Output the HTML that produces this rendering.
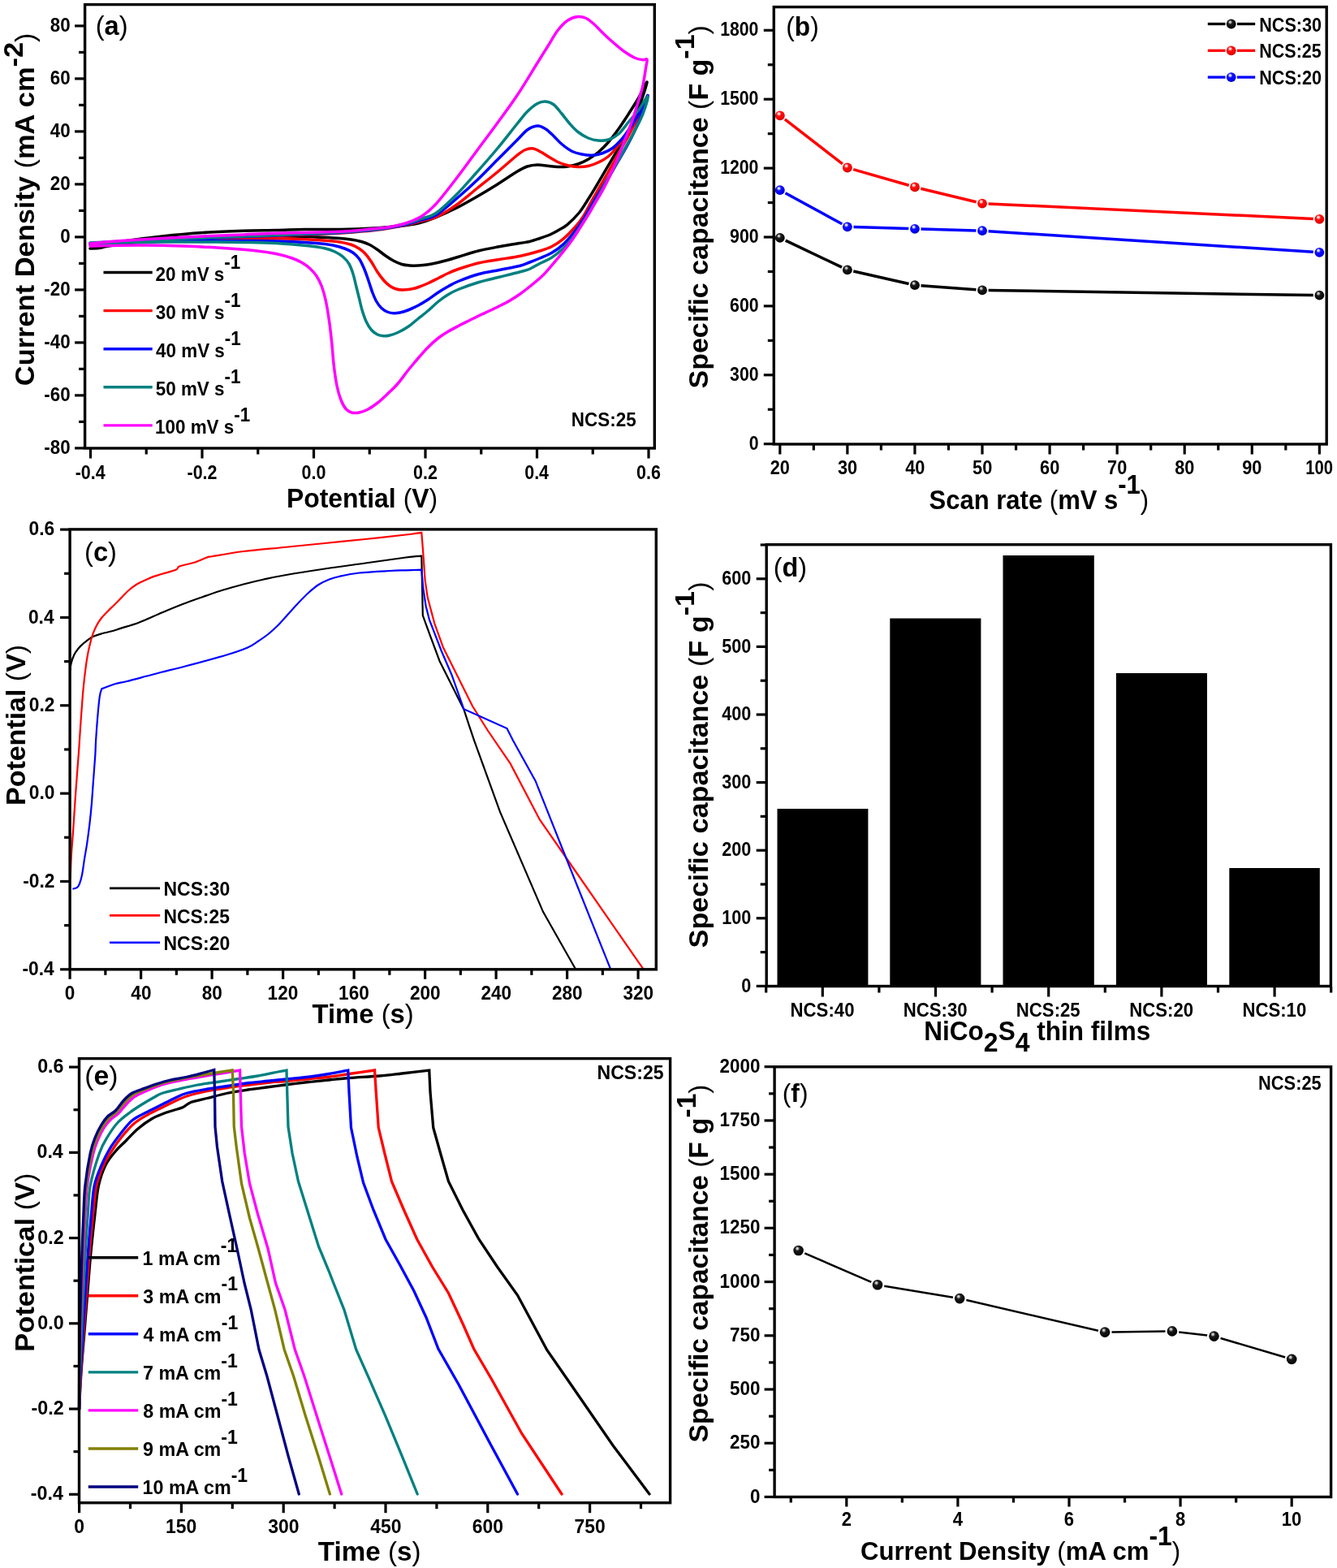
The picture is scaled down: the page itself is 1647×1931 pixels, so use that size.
<!DOCTYPE html>
<html lang="en">
<head>
<meta charset="utf-8">
<title>Figure: electrochemical performance of NiCo2S4 thin films</title>
<style>
html,body{margin:0;padding:0;background:#fff;}
body{width:1647px;height:1931px;overflow:hidden;}
svg{display:block;}
svg text{font-family:"Liberation Sans", sans-serif;font-weight:bold;fill:#000;}
</style>
</head>
<body>
<svg width="1647" height="1931" viewBox="0 0 1647 1931">
<defs>
<radialGradient id="gk" cx="0.42" cy="0.36" r="0.62" fx="0.38" fy="0.30"><stop offset="0" stop-color="#f2f2f2"/><stop offset="0.16" stop-color="#b0b0b0"/><stop offset="0.36" stop-color="#1c1c1c"/><stop offset="1" stop-color="#000"/></radialGradient>
<radialGradient id="gr" cx="0.42" cy="0.36" r="0.66" fx="0.38" fy="0.30"><stop offset="0" stop-color="#fff"/><stop offset="0.16" stop-color="#ffc0c0"/><stop offset="0.36" stop-color="#ff1010"/><stop offset="0.8" stop-color="#f00000"/><stop offset="1" stop-color="#c00000"/></radialGradient>
<radialGradient id="gb" cx="0.42" cy="0.36" r="0.66" fx="0.38" fy="0.30"><stop offset="0" stop-color="#fff"/><stop offset="0.16" stop-color="#c0c0ff"/><stop offset="0.36" stop-color="#1010ff"/><stop offset="0.8" stop-color="#0000f0"/><stop offset="1" stop-color="#0000b0"/></radialGradient>
</defs>
<rect width="1647" height="1931" fill="#fff"/>
<g id="panel-a">
<path d="M111.00,306.00C113.33,305.83 118.50,306.42 125.00,305.00C131.50,303.58 137.50,299.83 150.00,297.50C162.50,295.17 183.33,292.83 200.00,291.00C216.67,289.17 233.33,287.62 250.00,286.50C266.67,285.38 285.00,284.75 300.00,284.25C315.00,283.75 327.50,283.79 340.00,283.50C352.50,283.21 363.00,282.67 375.00,282.50C387.00,282.33 401.17,282.58 412.00,282.50C422.83,282.42 427.00,282.62 440.00,282.00C453.00,281.38 477.50,279.92 490.00,278.75C502.50,277.58 507.17,276.88 515.00,275.00C522.83,273.12 529.17,270.62 537.00,267.50C544.83,264.38 553.67,260.42 562.00,256.25C570.33,252.08 578.67,247.29 587.00,242.50C595.33,237.71 603.67,232.71 612.00,227.50C620.33,222.29 630.75,215.00 637.00,211.25C643.25,207.50 645.33,206.38 649.50,205.00C653.67,203.62 657.83,203.12 662.00,203.00C666.17,202.88 670.33,203.83 674.50,204.25C678.67,204.67 682.83,205.38 687.00,205.50C691.17,205.62 695.33,205.58 699.50,205.00C703.67,204.42 707.83,203.46 712.00,202.00C716.17,200.54 720.33,198.67 724.50,196.25C728.67,193.83 732.83,191.04 737.00,187.50C741.17,183.96 745.33,179.79 749.50,175.00C753.67,170.21 757.83,164.58 762.00,158.75C766.17,152.92 770.33,146.46 774.50,140.00C778.67,133.54 783.25,126.46 787.00,120.00C790.75,113.54 797.00,99.25 797.00,101.25C797.00,103.25 791.20,121.24 787.00,132.00C782.80,142.76 775.97,157.40 771.80,165.80C767.63,174.20 765.25,176.88 762.00,182.40C758.75,187.92 755.53,193.40 752.30,198.90C749.07,204.40 745.83,209.90 742.60,215.40C739.37,220.90 736.13,226.55 732.90,231.90C729.67,237.25 726.45,242.48 723.20,247.50C719.95,252.52 717.45,257.15 713.40,262.00C709.35,266.85 703.13,273.02 698.90,276.60C694.67,280.18 691.57,281.43 688.00,283.50C684.43,285.57 681.33,287.33 677.50,289.00C673.67,290.67 669.17,292.08 665.00,293.50C660.83,294.92 656.67,296.50 652.50,297.50C648.33,298.50 646.25,298.46 640.00,299.50C633.75,300.54 623.33,302.21 615.00,303.75C606.67,305.29 598.33,306.67 590.00,308.75C581.67,310.83 571.25,314.38 565.00,316.25C558.75,318.12 556.67,318.83 552.50,320.00C548.33,321.17 544.17,322.29 540.00,323.25C535.83,324.21 531.67,325.12 527.50,325.75C523.33,326.38 518.75,326.79 515.00,327.00C511.25,327.21 508.33,327.25 505.00,327.00C501.67,326.75 498.33,326.46 495.00,325.50C491.67,324.54 488.33,323.00 485.00,321.25C481.67,319.50 478.33,317.29 475.00,315.00C471.67,312.71 468.33,309.79 465.00,307.50C461.67,305.21 458.33,302.92 455.00,301.25C451.67,299.58 448.75,298.54 445.00,297.50C441.25,296.46 437.50,295.71 432.50,295.00C427.50,294.29 422.08,293.75 415.00,293.25C407.92,292.75 402.50,292.46 390.00,292.00C377.50,291.54 355.00,290.67 340.00,290.50C325.00,290.33 315.00,290.58 300.00,291.00C285.00,291.42 266.67,292.17 250.00,293.00C233.33,293.83 216.67,294.75 200.00,296.00C183.33,297.25 162.50,299.08 150.00,300.50C137.50,301.92 131.50,303.58 125.00,304.50C118.50,305.42 113.33,305.75 111.00,306.00" fill="none" stroke="#000" stroke-width="3.5" stroke-linejoin="round" stroke-linecap="round"/>
<path d="M111.00,300.00C117.50,299.67 135.17,298.67 150.00,298.00C164.83,297.33 183.33,296.67 200.00,296.00C216.67,295.33 233.33,294.67 250.00,294.00C266.67,293.33 285.00,292.58 300.00,292.00C315.00,291.42 321.33,291.25 340.00,290.50C358.67,289.75 395.33,288.33 412.00,287.50C428.67,286.67 430.33,286.33 440.00,285.50C449.67,284.67 460.00,283.92 470.00,282.50C480.00,281.08 491.67,278.75 500.00,277.00C508.33,275.25 513.83,273.58 520.00,272.00C526.17,270.42 530.00,270.75 537.00,267.50C544.00,264.25 553.67,258.33 562.00,252.50C570.33,246.67 578.67,239.17 587.00,232.50C595.33,225.83 603.67,219.38 612.00,212.50C620.33,205.62 631.17,195.92 637.00,191.25C642.83,186.58 643.67,185.88 647.00,184.50C650.33,183.12 653.67,182.50 657.00,183.00C660.33,183.50 663.67,185.71 667.00,187.50C670.33,189.29 673.67,191.75 677.00,193.75C680.33,195.75 683.25,197.83 687.00,199.50C690.75,201.17 695.33,202.75 699.50,203.75C703.67,204.75 707.83,205.38 712.00,205.50C716.17,205.62 720.33,205.42 724.50,204.50C728.67,203.58 732.83,202.00 737.00,200.00C741.17,198.00 745.33,196.04 749.50,192.50C753.67,188.96 757.83,184.17 762.00,178.75C766.17,173.33 770.33,166.67 774.50,160.00C778.67,153.33 783.08,145.83 787.00,138.75C790.92,131.67 798.00,116.96 798.00,117.50C798.00,118.04 790.50,134.58 787.00,142.00C783.50,149.42 780.33,155.67 777.00,162.00C773.67,168.33 770.33,174.00 767.00,180.00C763.67,186.00 760.25,192.17 757.00,198.00C753.75,203.83 750.72,209.33 747.50,215.00C744.28,220.67 740.95,226.33 737.70,232.00C734.45,237.67 731.23,243.18 728.00,249.00C724.77,254.82 721.53,261.82 718.30,266.90C715.07,271.98 712.65,274.97 708.60,279.50C704.55,284.03 698.87,290.05 694.00,294.10C689.13,298.15 684.23,301.32 679.40,303.80C674.57,306.28 671.57,307.05 665.00,309.00C658.43,310.95 648.33,313.75 640.00,315.50C631.67,317.25 623.33,318.12 615.00,319.50C606.67,320.88 598.33,321.79 590.00,323.75C581.67,325.71 571.25,329.17 565.00,331.25C558.75,333.33 556.67,334.38 552.50,336.25C548.33,338.12 544.17,340.42 540.00,342.50C535.83,344.58 531.67,346.88 527.50,348.75C523.33,350.62 518.75,352.50 515.00,353.75C511.25,355.00 508.33,355.71 505.00,356.25C501.67,356.79 497.92,357.08 495.00,357.00C492.08,356.92 490.00,356.58 487.50,355.75C485.00,354.92 482.50,353.79 480.00,352.00C477.50,350.21 475.00,347.83 472.50,345.00C470.00,342.17 467.50,338.75 465.00,335.00C462.50,331.25 460.00,326.25 457.50,322.50C455.00,318.75 452.50,315.21 450.00,312.50C447.50,309.79 445.42,308.12 442.50,306.25C439.58,304.38 437.08,302.71 432.50,301.25C427.92,299.79 422.08,298.46 415.00,297.50C407.92,296.54 402.50,296.12 390.00,295.50C377.50,294.88 355.00,294.00 340.00,293.75C325.00,293.50 315.00,293.79 300.00,294.00C285.00,294.21 266.67,294.58 250.00,295.00C233.33,295.42 216.67,295.92 200.00,296.50C183.33,297.08 164.83,297.75 150.00,298.50C135.17,299.25 117.50,300.58 111.00,301.00" fill="none" stroke="#ff0000" stroke-width="3.5" stroke-linejoin="round" stroke-linecap="round"/>
<path d="M111.00,299.50C117.50,299.17 135.17,298.17 150.00,297.50C164.83,296.83 183.33,296.17 200.00,295.50C216.67,294.83 233.33,294.17 250.00,293.50C266.67,292.83 285.00,292.08 300.00,291.50C315.00,290.92 321.33,290.75 340.00,290.00C358.67,289.25 395.33,287.83 412.00,287.00C428.67,286.17 430.33,285.83 440.00,285.00C449.67,284.17 460.00,283.42 470.00,282.00C480.00,280.58 491.67,278.42 500.00,276.50C508.33,274.58 513.83,272.42 520.00,270.50C526.17,268.58 530.00,269.25 537.00,265.00C544.00,260.75 553.67,252.08 562.00,245.00C570.33,237.92 578.67,230.42 587.00,222.50C595.33,214.58 603.67,205.83 612.00,197.50C620.33,189.17 630.75,178.75 637.00,172.50C643.25,166.25 645.33,162.92 649.50,160.00C653.67,157.08 658.25,155.21 662.00,155.00C665.75,154.79 668.67,156.67 672.00,158.75C675.33,160.83 678.67,164.38 682.00,167.50C685.33,170.62 688.25,174.38 692.00,177.50C695.75,180.62 700.33,184.17 704.50,186.25C708.67,188.33 712.83,189.17 717.00,190.00C721.17,190.83 725.33,191.46 729.50,191.25C733.67,191.04 737.83,190.21 742.00,188.75C746.17,187.29 750.33,185.62 754.50,182.50C758.67,179.38 762.83,175.00 767.00,170.00C771.17,165.00 775.75,158.33 779.50,152.50C783.25,146.67 786.42,140.83 789.50,135.00C792.58,129.17 797.92,116.33 798.00,117.50C798.08,118.67 793.00,134.08 790.00,142.00C787.00,149.92 783.33,158.00 780.00,165.00C776.67,172.00 773.33,178.00 770.00,184.00C766.67,190.00 763.42,195.17 760.00,201.00C756.58,206.83 753.33,212.67 749.50,219.00C745.67,225.33 740.75,232.83 737.00,239.00C733.25,245.17 730.12,250.70 727.00,256.00C723.88,261.30 721.37,266.07 718.30,270.80C715.23,275.53 712.65,279.38 708.60,284.40C704.55,289.42 698.87,296.37 694.00,300.90C689.13,305.43 684.23,308.75 679.40,311.60C674.57,314.45 669.48,316.10 665.00,318.00C660.52,319.90 656.67,321.42 652.50,323.00C648.33,324.58 646.25,325.92 640.00,327.50C633.75,329.08 623.33,330.83 615.00,332.50C606.67,334.17 598.33,335.21 590.00,337.50C581.67,339.79 571.25,343.75 565.00,346.25C558.75,348.75 556.67,350.21 552.50,352.50C548.33,354.79 544.17,357.29 540.00,360.00C535.83,362.71 531.67,366.04 527.50,368.75C523.33,371.46 519.17,374.04 515.00,376.25C510.83,378.46 506.25,380.54 502.50,382.00C498.75,383.46 495.42,384.38 492.50,385.00C489.58,385.62 487.50,385.88 485.00,385.75C482.50,385.62 480.00,385.29 477.50,384.25C475.00,383.21 472.29,381.67 470.00,379.50C467.71,377.33 465.62,374.50 463.75,371.25C461.88,368.00 460.42,364.38 458.75,360.00C457.08,355.62 455.42,349.79 453.75,345.00C452.08,340.21 450.62,335.62 448.75,331.25C446.88,326.88 444.79,322.08 442.50,318.75C440.21,315.42 437.92,313.33 435.00,311.25C432.08,309.17 429.17,307.79 425.00,306.25C420.83,304.71 415.83,303.12 410.00,302.00C404.17,300.88 401.67,300.33 390.00,299.50C378.33,298.67 355.00,297.50 340.00,297.00C325.00,296.50 315.00,296.58 300.00,296.50C285.00,296.42 266.67,296.42 250.00,296.50C233.33,296.58 216.67,296.67 200.00,297.00C183.33,297.33 164.83,297.92 150.00,298.50C135.17,299.08 117.50,300.17 111.00,300.50" fill="none" stroke="#0000ff" stroke-width="3.5" stroke-linejoin="round" stroke-linecap="round"/>
<path d="M111.00,299.00C117.50,298.67 135.17,297.67 150.00,297.00C164.83,296.33 183.33,295.67 200.00,295.00C216.67,294.33 233.33,293.67 250.00,293.00C266.67,292.33 285.00,291.58 300.00,291.00C315.00,290.42 321.33,290.25 340.00,289.50C358.67,288.75 395.33,287.33 412.00,286.50C428.67,285.67 430.33,285.33 440.00,284.50C449.67,283.67 460.00,283.00 470.00,281.50C480.00,280.00 491.67,277.58 500.00,275.50C508.33,273.42 513.83,271.17 520.00,269.00C526.17,266.83 530.00,267.33 537.00,262.50C544.00,257.67 553.67,248.33 562.00,240.00C570.33,231.67 578.67,221.88 587.00,212.50C595.33,203.12 603.67,193.75 612.00,183.75C620.33,173.75 630.75,160.21 637.00,152.50C643.25,144.79 645.33,141.67 649.50,137.50C653.67,133.33 658.25,129.58 662.00,127.50C665.75,125.42 668.67,124.79 672.00,125.00C675.33,125.21 678.67,126.25 682.00,128.75C685.33,131.25 688.67,136.04 692.00,140.00C695.33,143.96 698.67,148.75 702.00,152.50C705.33,156.25 708.25,159.58 712.00,162.50C715.75,165.42 720.33,168.25 724.50,170.00C728.67,171.75 732.83,172.67 737.00,173.00C741.17,173.33 745.33,173.33 749.50,172.00C753.67,170.67 757.83,168.67 762.00,165.00C766.17,161.33 770.33,155.00 774.50,150.00C778.67,145.00 783.08,140.21 787.00,135.00C790.92,129.79 797.17,117.92 798.00,118.75C798.83,119.58 794.75,132.81 792.00,140.00C789.25,147.19 784.87,155.33 781.50,161.90C778.13,168.47 775.05,173.57 771.80,179.40C768.55,185.23 765.25,191.07 762.00,196.90C758.75,202.73 755.53,208.57 752.30,214.40C749.07,220.23 745.83,226.07 742.60,231.90C739.37,237.73 736.13,243.73 732.90,249.40C729.67,255.07 726.45,260.55 723.20,265.90C719.95,271.25 716.65,276.63 713.40,281.50C710.15,286.37 706.93,291.05 703.70,295.10C700.47,299.15 698.05,302.08 694.00,305.80C689.95,309.52 684.23,314.28 679.40,317.40C674.57,320.52 669.48,322.19 665.00,324.50C660.52,326.81 656.67,329.50 652.50,331.25C648.33,333.00 646.25,333.33 640.00,335.00C633.75,336.67 623.33,339.17 615.00,341.25C606.67,343.33 598.33,345.00 590.00,347.50C581.67,350.00 571.25,353.75 565.00,356.25C558.75,358.75 556.67,360.00 552.50,362.50C548.33,365.00 544.17,367.92 540.00,371.25C535.83,374.58 531.67,378.96 527.50,382.50C523.33,386.04 519.17,389.17 515.00,392.50C510.83,395.83 506.67,399.67 502.50,402.50C498.33,405.33 493.75,407.75 490.00,409.50C486.25,411.25 482.92,412.29 480.00,413.00C477.08,413.71 475.00,413.92 472.50,413.75C470.00,413.58 467.50,413.25 465.00,412.00C462.50,410.75 459.79,408.88 457.50,406.25C455.21,403.62 453.12,400.21 451.25,396.25C449.38,392.29 447.71,387.29 446.25,382.50C444.79,377.71 443.75,372.50 442.50,367.50C441.25,362.50 440.00,357.50 438.75,352.50C437.50,347.50 436.46,342.08 435.00,337.50C433.54,332.92 432.08,328.54 430.00,325.00C427.92,321.46 425.42,318.75 422.50,316.25C419.58,313.75 416.25,311.75 412.50,310.00C408.75,308.25 405.83,307.00 400.00,305.75C394.17,304.50 387.50,303.54 377.50,302.50C367.50,301.46 352.92,300.17 340.00,299.50C327.08,298.83 315.00,298.75 300.00,298.50C285.00,298.25 266.67,298.08 250.00,298.00C233.33,297.92 216.67,297.83 200.00,298.00C183.33,298.17 164.83,298.58 150.00,299.00C135.17,299.42 117.50,300.25 111.00,300.50" fill="none" stroke="#008080" stroke-width="3.5" stroke-linejoin="round" stroke-linecap="round"/>
<path d="M111.00,300.00C117.50,299.42 135.17,297.58 150.00,296.50C164.83,295.42 183.33,294.42 200.00,293.50C216.67,292.58 233.33,291.75 250.00,291.00C266.67,290.25 285.00,289.62 300.00,289.00C315.00,288.38 321.33,287.88 340.00,287.30C358.67,286.72 395.33,286.09 412.00,285.50C428.67,284.91 431.67,284.42 440.00,283.75C448.33,283.08 455.75,282.12 462.00,281.50C468.25,280.88 471.25,281.08 477.50,280.00C483.75,278.92 492.50,277.29 499.50,275.00C506.50,272.71 513.25,270.21 519.50,266.25C525.75,262.29 529.92,258.96 537.00,251.25C544.08,243.54 553.67,230.83 562.00,220.00C570.33,209.17 578.67,197.50 587.00,186.25C595.33,175.00 603.67,163.96 612.00,152.50C620.33,141.04 628.67,130.00 637.00,117.50C645.33,105.00 655.75,87.50 662.00,77.50C668.25,67.50 670.33,64.17 674.50,57.50C678.67,50.83 682.83,42.92 687.00,37.50C691.17,32.08 695.33,27.83 699.50,25.00C703.67,22.17 708.25,20.92 712.00,20.50C715.75,20.08 718.67,20.92 722.00,22.50C725.33,24.08 728.25,26.67 732.00,30.00C735.75,33.33 740.33,38.54 744.50,42.50C748.67,46.46 752.83,50.21 757.00,53.75C761.17,57.29 765.33,60.83 769.50,63.75C773.67,66.67 778.25,69.58 782.00,71.25C785.75,72.92 789.50,73.42 792.00,73.75C794.50,74.08 796.38,71.79 797.00,73.25C797.62,74.71 796.58,77.21 795.75,82.50C794.92,87.79 793.46,98.33 792.00,105.00C790.54,111.67 788.83,116.33 787.00,122.50C785.17,128.67 783.05,135.75 781.00,142.00C778.95,148.25 776.73,154.57 774.70,160.00C772.67,165.43 770.92,169.25 768.80,174.60C766.68,179.95 764.75,185.47 762.00,192.10C759.25,198.73 755.53,207.43 752.30,214.40C749.07,221.37 745.83,227.90 742.60,233.90C739.37,239.90 736.13,244.90 732.90,250.40C729.67,255.90 726.45,261.57 723.20,266.90C719.95,272.23 716.65,277.38 713.40,282.40C710.15,287.42 706.93,292.45 703.70,297.00C700.47,301.55 698.05,304.67 694.00,309.70C689.95,314.73 683.77,322.15 679.40,327.20C675.03,332.25 672.28,335.70 667.80,340.00C663.32,344.30 657.13,349.25 652.50,353.00C647.87,356.75 644.17,359.58 640.00,362.50C635.83,365.42 631.67,368.08 627.50,370.50C623.33,372.92 619.17,374.92 615.00,377.00C610.83,379.08 606.67,381.04 602.50,383.00C598.33,384.96 594.17,386.75 590.00,388.75C585.83,390.75 581.67,392.92 577.50,395.00C573.33,397.08 569.17,399.08 565.00,401.25C560.83,403.42 556.67,405.50 552.50,408.00C548.33,410.50 544.17,413.00 540.00,416.25C535.83,419.50 531.67,423.33 527.50,427.50C523.33,431.67 519.17,436.46 515.00,441.25C510.83,446.04 506.67,451.04 502.50,456.25C498.33,461.46 494.17,467.71 490.00,472.50C485.83,477.29 481.67,481.04 477.50,485.00C473.33,488.96 469.17,493.00 465.00,496.25C460.83,499.50 456.25,502.54 452.50,504.50C448.75,506.46 445.62,507.38 442.50,508.00C439.38,508.62 436.46,508.96 433.75,508.25C431.04,507.54 428.54,506.38 426.25,503.75C423.96,501.12 421.88,497.29 420.00,492.50C418.12,487.71 416.46,482.08 415.00,475.00C413.54,467.92 412.29,458.75 411.25,450.00C410.21,441.25 409.71,431.67 408.75,422.50C407.79,413.33 406.75,403.75 405.50,395.00C404.25,386.25 402.79,377.08 401.25,370.00C399.71,362.92 398.12,357.50 396.25,352.50C394.38,347.50 392.29,343.54 390.00,340.00C387.71,336.46 385.42,333.96 382.50,331.25C379.58,328.54 376.25,325.96 372.50,323.75C368.75,321.54 365.42,319.88 360.00,318.00C354.58,316.12 347.92,314.08 340.00,312.50C332.08,310.92 323.33,309.67 312.50,308.50C301.67,307.33 289.58,306.42 275.00,305.50C260.42,304.58 241.67,303.58 225.00,303.00C208.33,302.42 190.83,302.08 175.00,302.00C159.17,301.92 140.67,302.33 130.00,302.50C119.33,302.67 114.17,302.92 111.00,303.00" fill="none" stroke="#ff00ff" stroke-width="3.5" stroke-linejoin="round" stroke-linecap="round"/>
<rect x="104.6" y="5.6" width="701.6999999999999" height="546.4" fill="none" stroke="#000" stroke-width="3.4"/>
<line x1="103.6" y1="31.9" x2="92.1" y2="31.9" stroke="#000" stroke-width="3.2" stroke-linecap="butt"/>
<line x1="103.6" y1="96.9" x2="92.1" y2="96.9" stroke="#000" stroke-width="3.2" stroke-linecap="butt"/>
<line x1="103.6" y1="161.9" x2="92.1" y2="161.9" stroke="#000" stroke-width="3.2" stroke-linecap="butt"/>
<line x1="103.6" y1="226.9" x2="92.1" y2="226.9" stroke="#000" stroke-width="3.2" stroke-linecap="butt"/>
<line x1="103.6" y1="291.9" x2="92.1" y2="291.9" stroke="#000" stroke-width="3.2" stroke-linecap="butt"/>
<line x1="103.6" y1="356.9" x2="92.1" y2="356.9" stroke="#000" stroke-width="3.2" stroke-linecap="butt"/>
<line x1="103.6" y1="421.9" x2="92.1" y2="421.9" stroke="#000" stroke-width="3.2" stroke-linecap="butt"/>
<line x1="103.6" y1="486.9" x2="92.1" y2="486.9" stroke="#000" stroke-width="3.2" stroke-linecap="butt"/>
<line x1="103.6" y1="551.9" x2="92.1" y2="551.9" stroke="#000" stroke-width="3.2" stroke-linecap="butt"/>
<line x1="103.6" y1="64.4" x2="97.1" y2="64.4" stroke="#000" stroke-width="3.2" stroke-linecap="butt"/>
<line x1="103.6" y1="129.4" x2="97.1" y2="129.4" stroke="#000" stroke-width="3.2" stroke-linecap="butt"/>
<line x1="103.6" y1="194.4" x2="97.1" y2="194.4" stroke="#000" stroke-width="3.2" stroke-linecap="butt"/>
<line x1="103.6" y1="259.4" x2="97.1" y2="259.4" stroke="#000" stroke-width="3.2" stroke-linecap="butt"/>
<line x1="103.6" y1="324.4" x2="97.1" y2="324.4" stroke="#000" stroke-width="3.2" stroke-linecap="butt"/>
<line x1="103.6" y1="389.4" x2="97.1" y2="389.4" stroke="#000" stroke-width="3.2" stroke-linecap="butt"/>
<line x1="103.6" y1="454.4" x2="97.1" y2="454.4" stroke="#000" stroke-width="3.2" stroke-linecap="butt"/>
<line x1="103.6" y1="519.4" x2="97.1" y2="519.4" stroke="#000" stroke-width="3.2" stroke-linecap="butt"/>
<text transform="translate(61.82,39.00) scale(0.9300,1)" font-size="24">80</text>
<text transform="translate(61.82,104.00) scale(0.9300,1)" font-size="24">60</text>
<text transform="translate(61.82,169.00) scale(0.9300,1)" font-size="24">40</text>
<text transform="translate(61.82,234.00) scale(0.9300,1)" font-size="24">20</text>
<text transform="translate(74.21,299.00) scale(0.9300,1)" font-size="24">0</text>
<text transform="translate(54.34,364.00) scale(0.9300,1)" font-size="24">-20</text>
<text transform="translate(54.34,429.00) scale(0.9300,1)" font-size="24">-40</text>
<text transform="translate(54.34,494.00) scale(0.9300,1)" font-size="24">-60</text>
<text transform="translate(54.34,559.00) scale(0.9300,1)" font-size="24">-80</text>
<line x1="111.5" y1="553.0" x2="111.5" y2="564.5" stroke="#000" stroke-width="3.2" stroke-linecap="butt"/>
<line x1="249.0" y1="553.0" x2="249.0" y2="564.5" stroke="#000" stroke-width="3.2" stroke-linecap="butt"/>
<line x1="386.5" y1="553.0" x2="386.5" y2="564.5" stroke="#000" stroke-width="3.2" stroke-linecap="butt"/>
<line x1="524.0" y1="553.0" x2="524.0" y2="564.5" stroke="#000" stroke-width="3.2" stroke-linecap="butt"/>
<line x1="661.5" y1="553.0" x2="661.5" y2="564.5" stroke="#000" stroke-width="3.2" stroke-linecap="butt"/>
<line x1="799.0" y1="553.0" x2="799.0" y2="564.5" stroke="#000" stroke-width="3.2" stroke-linecap="butt"/>
<line x1="180.25" y1="553.0" x2="180.25" y2="559.5" stroke="#000" stroke-width="3.2" stroke-linecap="butt"/>
<line x1="317.75" y1="553.0" x2="317.75" y2="559.5" stroke="#000" stroke-width="3.2" stroke-linecap="butt"/>
<line x1="455.25" y1="553.0" x2="455.25" y2="559.5" stroke="#000" stroke-width="3.2" stroke-linecap="butt"/>
<line x1="592.75" y1="553.0" x2="592.75" y2="559.5" stroke="#000" stroke-width="3.2" stroke-linecap="butt"/>
<line x1="730.25" y1="553.0" x2="730.25" y2="559.5" stroke="#000" stroke-width="3.2" stroke-linecap="butt"/>
<text transform="translate(92.65,589.90) scale(0.8950,1)" font-size="24">-0.4</text>
<text transform="translate(230.53,589.90) scale(0.8950,1)" font-size="24">-0.2</text>
<text transform="translate(371.57,589.90) scale(0.8950,1)" font-size="24">0.0</text>
<text transform="translate(509.07,589.90) scale(0.8950,1)" font-size="24">0.2</text>
<text transform="translate(646.20,589.90) scale(0.8950,1)" font-size="24">0.4</text>
<text transform="translate(784.02,589.90) scale(0.8950,1)" font-size="24">0.6</text>
<text transform="translate(352.92,624.80) scale(0.9534,1)" font-size="33.5">Potential <tspan font-weight="normal">(</tspan>V<tspan font-weight="normal">)</tspan></text>
<text transform="translate(42.00,475.18) rotate(-90) scale(1.0337,1)" font-size="33.3"><tspan font-size="33.3">Current Density <tspan font-weight="normal">(</tspan>mA cm</tspan><tspan font-size="33.3" dy="-14.00">-2</tspan><tspan font-size="33.3" dy="14.00"><tspan font-weight="normal">)</tspan></tspan></text>
<text transform="translate(117.67,43.00) scale(0.9886,1)" font-size="33"><tspan font-weight="normal">(</tspan>a<tspan font-weight="normal">)</tspan></text>
<text transform="translate(703.84,524.60) scale(0.9355,1)" font-size="24">NCS:25</text>
<line x1="127.5" y1="335.5" x2="187.7" y2="335.5" stroke="#000" stroke-width="3.4" stroke-linecap="butt"/>
<text transform="translate(191.62,345.80) scale(0.9420,1)" font-size="23.8"><tspan font-size="23.8">20 mV s</tspan><tspan font-size="23.8" dy="-15.20">-1</tspan></text>
<line x1="127.5" y1="382.6" x2="187.7" y2="382.6" stroke="#ff0000" stroke-width="3.4" stroke-linecap="butt"/>
<text transform="translate(191.84,392.90) scale(0.9420,1)" font-size="23.8"><tspan font-size="23.8">30 mV s</tspan><tspan font-size="23.8" dy="-15.20">-1</tspan></text>
<line x1="127.5" y1="429.7" x2="187.7" y2="429.7" stroke="#0000ff" stroke-width="3.4" stroke-linecap="butt"/>
<text transform="translate(192.06,440.00) scale(0.9420,1)" font-size="23.8"><tspan font-size="23.8">40 mV s</tspan><tspan font-size="23.8" dy="-15.20">-1</tspan></text>
<line x1="127.5" y1="476.8" x2="187.7" y2="476.8" stroke="#008080" stroke-width="3.4" stroke-linecap="butt"/>
<text transform="translate(191.73,487.10) scale(0.9420,1)" font-size="23.8"><tspan font-size="23.8">50 mV s</tspan><tspan font-size="23.8" dy="-15.20">-1</tspan></text>
<line x1="127.5" y1="523.9" x2="187.7" y2="523.9" stroke="#ff00ff" stroke-width="3.4" stroke-linecap="butt"/>
<text transform="translate(191.05,534.20) scale(0.9420,1)" font-size="23.8"><tspan font-size="23.8">100 mV s</tspan><tspan font-size="23.8" dy="-15.20">-1</tspan></text>
</g>
<g id="panel-b">
<path d="M967.66,296.16L1037.01,329.14M1051.28,334.08L1119.53,349.52M1134.52,351.77L1202.43,356.83M1217.61,357.52L1617.76,363.58" fill="none" stroke="#000" stroke-width="3.5" stroke-linejoin="round" stroke-linecap="butt"/>
<path d="M966.81,146.95L1037.86,201.85M1051.17,208.60L1119.64,228.30M1134.32,232.20L1202.63,248.80M1217.60,250.95L1617.77,269.45" fill="none" stroke="#ff0000" stroke-width="3.5" stroke-linejoin="round" stroke-linecap="butt"/>
<path d="M967.48,237.83L1037.19,275.67M1051.47,279.53L1119.34,281.57M1134.54,282.02L1202.41,283.98M1217.59,284.69L1617.78,310.31" fill="none" stroke="#0000ff" stroke-width="3.5" stroke-linejoin="round" stroke-linecap="butt"/>
<circle cx="960.8" cy="292.9" r="5.9" fill="url(#gk)"/>
<circle cx="1043.87" cy="332.4" r="5.9" fill="url(#gk)"/>
<circle cx="1126.94" cy="351.2" r="5.9" fill="url(#gk)"/>
<circle cx="1210.01" cy="357.4" r="5.9" fill="url(#gk)"/>
<circle cx="1625.36" cy="363.7" r="5.9" fill="url(#gk)"/>
<circle cx="960.8" cy="142.3" r="5.9" fill="url(#gr)"/>
<circle cx="1043.87" cy="206.5" r="5.9" fill="url(#gr)"/>
<circle cx="1126.94" cy="230.4" r="5.9" fill="url(#gr)"/>
<circle cx="1210.01" cy="250.6" r="5.9" fill="url(#gr)"/>
<circle cx="1625.36" cy="269.8" r="5.9" fill="url(#gr)"/>
<circle cx="960.8" cy="234.2" r="5.9" fill="url(#gb)"/>
<circle cx="1043.87" cy="279.3" r="5.9" fill="url(#gb)"/>
<circle cx="1126.94" cy="281.8" r="5.9" fill="url(#gb)"/>
<circle cx="1210.01" cy="284.2" r="5.9" fill="url(#gb)"/>
<circle cx="1625.36" cy="310.8" r="5.9" fill="url(#gb)"/>
<rect x="953.3" y="8.6" width="680.9000000000001" height="538.4" fill="none" stroke="#000" stroke-width="3.4"/>
<line x1="952.3" y1="37.3" x2="940.8" y2="37.3" stroke="#000" stroke-width="3.2" stroke-linecap="butt"/>
<line x1="952.3" y1="122.2" x2="940.8" y2="122.2" stroke="#000" stroke-width="3.2" stroke-linecap="butt"/>
<line x1="952.3" y1="207.10000000000002" x2="940.8" y2="207.10000000000002" stroke="#000" stroke-width="3.2" stroke-linecap="butt"/>
<line x1="952.3" y1="292.0" x2="940.8" y2="292.0" stroke="#000" stroke-width="3.2" stroke-linecap="butt"/>
<line x1="952.3" y1="376.90000000000003" x2="940.8" y2="376.90000000000003" stroke="#000" stroke-width="3.2" stroke-linecap="butt"/>
<line x1="952.3" y1="461.8" x2="940.8" y2="461.8" stroke="#000" stroke-width="3.2" stroke-linecap="butt"/>
<line x1="952.3" y1="546.7" x2="940.8" y2="546.7" stroke="#000" stroke-width="3.2" stroke-linecap="butt"/>
<line x1="952.3" y1="79.75" x2="945.8" y2="79.75" stroke="#000" stroke-width="3.2" stroke-linecap="butt"/>
<line x1="952.3" y1="164.65" x2="945.8" y2="164.65" stroke="#000" stroke-width="3.2" stroke-linecap="butt"/>
<line x1="952.3" y1="249.55" x2="945.8" y2="249.55" stroke="#000" stroke-width="3.2" stroke-linecap="butt"/>
<line x1="952.3" y1="334.45000000000005" x2="945.8" y2="334.45000000000005" stroke="#000" stroke-width="3.2" stroke-linecap="butt"/>
<line x1="952.3" y1="419.35" x2="945.8" y2="419.35" stroke="#000" stroke-width="3.2" stroke-linecap="butt"/>
<line x1="952.3" y1="504.25" x2="945.8" y2="504.25" stroke="#000" stroke-width="3.2" stroke-linecap="butt"/>
<text transform="translate(887.19,44.40) scale(0.8850,1)" font-size="24">1800</text>
<text transform="translate(887.19,129.30) scale(0.8850,1)" font-size="24">1500</text>
<text transform="translate(887.19,214.20) scale(0.8850,1)" font-size="24">1200</text>
<text transform="translate(899.09,299.10) scale(0.8850,1)" font-size="24">900</text>
<text transform="translate(899.09,384.00) scale(0.8850,1)" font-size="24">600</text>
<text transform="translate(899.09,468.90) scale(0.8850,1)" font-size="24">300</text>
<text transform="translate(922.66,553.80) scale(0.8850,1)" font-size="24">0</text>
<line x1="960.8" y1="548.0" x2="960.8" y2="559.5" stroke="#000" stroke-width="3.2" stroke-linecap="butt"/>
<line x1="1043.87" y1="548.0" x2="1043.87" y2="559.5" stroke="#000" stroke-width="3.2" stroke-linecap="butt"/>
<line x1="1126.94" y1="548.0" x2="1126.94" y2="559.5" stroke="#000" stroke-width="3.2" stroke-linecap="butt"/>
<line x1="1210.01" y1="548.0" x2="1210.01" y2="559.5" stroke="#000" stroke-width="3.2" stroke-linecap="butt"/>
<line x1="1293.08" y1="548.0" x2="1293.08" y2="559.5" stroke="#000" stroke-width="3.2" stroke-linecap="butt"/>
<line x1="1376.15" y1="548.0" x2="1376.15" y2="559.5" stroke="#000" stroke-width="3.2" stroke-linecap="butt"/>
<line x1="1459.2199999999998" y1="548.0" x2="1459.2199999999998" y2="559.5" stroke="#000" stroke-width="3.2" stroke-linecap="butt"/>
<line x1="1542.29" y1="548.0" x2="1542.29" y2="559.5" stroke="#000" stroke-width="3.2" stroke-linecap="butt"/>
<line x1="1625.36" y1="548.0" x2="1625.36" y2="559.5" stroke="#000" stroke-width="3.2" stroke-linecap="butt"/>
<line x1="1002.3349999999999" y1="548.0" x2="1002.3349999999999" y2="554.5" stroke="#000" stroke-width="3.2" stroke-linecap="butt"/>
<line x1="1085.405" y1="548.0" x2="1085.405" y2="554.5" stroke="#000" stroke-width="3.2" stroke-linecap="butt"/>
<line x1="1168.475" y1="548.0" x2="1168.475" y2="554.5" stroke="#000" stroke-width="3.2" stroke-linecap="butt"/>
<line x1="1251.545" y1="548.0" x2="1251.545" y2="554.5" stroke="#000" stroke-width="3.2" stroke-linecap="butt"/>
<line x1="1334.6149999999998" y1="548.0" x2="1334.6149999999998" y2="554.5" stroke="#000" stroke-width="3.2" stroke-linecap="butt"/>
<line x1="1417.685" y1="548.0" x2="1417.685" y2="554.5" stroke="#000" stroke-width="3.2" stroke-linecap="butt"/>
<line x1="1500.7549999999999" y1="548.0" x2="1500.7549999999999" y2="554.5" stroke="#000" stroke-width="3.2" stroke-linecap="butt"/>
<line x1="1583.8249999999998" y1="548.0" x2="1583.8249999999998" y2="554.5" stroke="#000" stroke-width="3.2" stroke-linecap="butt"/>
<text transform="translate(948.80,584.30) scale(0.9050,1)" font-size="24">20</text>
<text transform="translate(1031.98,584.30) scale(0.9050,1)" font-size="24">30</text>
<text transform="translate(1115.16,584.30) scale(0.9050,1)" font-size="24">40</text>
<text transform="translate(1198.06,584.30) scale(0.9050,1)" font-size="24">50</text>
<text transform="translate(1281.08,584.30) scale(0.9050,1)" font-size="24">60</text>
<text transform="translate(1364.10,584.30) scale(0.9050,1)" font-size="24">70</text>
<text transform="translate(1447.27,584.30) scale(0.9050,1)" font-size="24">80</text>
<text transform="translate(1530.29,584.30) scale(0.9050,1)" font-size="24">90</text>
<text transform="translate(1608.18,584.30) scale(0.8440,1)" font-size="24">100</text>
<text transform="translate(1144.57,627.40) scale(0.9125,1)" font-size="34"><tspan font-size="34">Scan rate <tspan font-weight="normal">(</tspan>mV s</tspan><tspan font-size="34" dy="-19.00">-1</tspan><tspan font-size="34" dy="19.00"><tspan font-weight="normal">)</tspan></tspan></text>
<text transform="translate(872.00,478.52) rotate(-90) scale(1.0423,1)" font-size="32.6"><tspan font-size="32.6">Specific capacitance <tspan font-weight="normal">(</tspan>F g</tspan><tspan font-size="32.6" dy="-17.10">-1</tspan><tspan font-size="32.6" dy="17.10"><tspan font-weight="normal">)</tspan></tspan></text>
<text transform="translate(968.32,43.80) scale(0.9579,1)" font-size="33"><tspan font-weight="normal">(</tspan>b<tspan font-weight="normal">)</tspan></text>
<line x1="1487.8" y1="29.5" x2="1509.5" y2="29.5" stroke="#000" stroke-width="3.3" stroke-linecap="butt"/>
<line x1="1523.9" y1="29.5" x2="1546.2" y2="29.5" stroke="#000" stroke-width="3.3" stroke-linecap="butt"/>
<circle cx="1516.7" cy="29.5" r="5.9" fill="url(#gk)"/>
<text transform="translate(1551.19,38.60) scale(0.9162,1)" font-size="23.6">NCS:30</text>
<line x1="1487.8" y1="62.3" x2="1509.5" y2="62.3" stroke="#ff0000" stroke-width="3.3" stroke-linecap="butt"/>
<line x1="1523.9" y1="62.3" x2="1546.2" y2="62.3" stroke="#ff0000" stroke-width="3.3" stroke-linecap="butt"/>
<circle cx="1516.7" cy="62.3" r="5.9" fill="url(#gr)"/>
<text transform="translate(1551.20,71.40) scale(0.9123,1)" font-size="23.6">NCS:25</text>
<line x1="1487.8" y1="95.1" x2="1509.5" y2="95.1" stroke="#0000ff" stroke-width="3.3" stroke-linecap="butt"/>
<line x1="1523.9" y1="95.1" x2="1546.2" y2="95.1" stroke="#0000ff" stroke-width="3.3" stroke-linecap="butt"/>
<circle cx="1516.7" cy="95.1" r="5.9" fill="url(#gb)"/>
<text transform="translate(1551.19,104.20) scale(0.9162,1)" font-size="23.6">NCS:20</text>
</g>
<g id="panel-c">
<path d="M86.60,826.00C86.67,825.00 86.53,822.50 87.00,820.00C87.47,817.50 88.37,813.80 89.40,811.00C90.43,808.20 91.52,805.80 93.20,803.20C94.88,800.60 96.90,798.00 99.50,795.40C102.10,792.80 106.22,789.55 108.80,787.60C111.38,785.65 112.42,784.87 115.00,783.70C117.58,782.53 120.15,781.75 124.30,780.60C128.45,779.45 135.75,777.97 139.90,776.80C144.05,775.63 144.03,775.28 149.20,773.60C154.37,771.92 162.43,769.93 170.90,766.70C179.37,763.47 190.98,757.98 200.00,754.20C209.02,750.42 216.67,747.20 225.00,744.00C233.33,740.80 241.67,737.92 250.00,735.00C258.33,732.08 266.67,729.08 275.00,726.50C283.33,723.92 291.67,721.67 300.00,719.50C308.33,717.33 316.67,715.33 325.00,713.50C333.33,711.67 337.50,710.67 350.00,708.50C362.50,706.33 383.33,703.00 400.00,700.50C416.67,698.00 433.33,695.83 450.00,693.50C466.67,691.17 488.45,687.98 500.00,686.50C511.55,685.02 516.08,684.92 519.30,684.60L519.30,684.60L520.80,757.90L528.90,780.20L541.60,814.20L554.40,839.70L571.40,873.70L577.70,892.90L584.10,911.80L616.00,999.90L669.10,1123.10L696.70,1171.80L709.20,1193.80" fill="none" stroke="#000" stroke-width="2.2" stroke-linejoin="miter" stroke-linecap="butt"/>
<path d="M86.70,1082.30C86.88,1077.63 87.23,1064.15 87.80,1054.30C88.37,1044.45 89.20,1036.15 90.10,1023.20C91.00,1010.25 92.03,992.97 93.20,976.60C94.37,960.23 96.05,939.67 97.10,925.00C98.15,910.33 98.72,899.83 99.50,888.60C100.28,877.37 101.03,866.67 101.80,857.60C102.57,848.53 103.20,841.98 104.10,834.20C105.00,826.42 106.17,817.37 107.20,810.90C108.23,804.43 109.13,800.32 110.30,795.40C111.47,790.48 112.77,785.55 114.20,781.40C115.63,777.25 117.22,773.73 118.90,770.50C120.58,767.27 122.10,764.85 124.30,762.00C126.50,759.15 129.50,756.12 132.10,753.40C134.70,750.68 137.05,748.53 139.90,745.70C142.75,742.87 146.10,739.52 149.20,736.40C152.30,733.28 155.40,729.73 158.50,727.00C161.60,724.27 164.43,722.07 167.80,720.00C171.17,717.93 175.07,716.28 178.70,714.60C182.33,712.92 186.05,711.20 189.60,709.90C193.15,708.60 195.43,708.20 200.00,706.80C204.57,705.40 213.50,703.05 217.00,701.50C220.50,699.95 217.17,699.00 221.00,697.50C224.83,696.00 234.33,694.33 240.00,692.50C245.67,690.67 251.33,687.75 255.00,686.50C258.67,685.25 254.50,686.25 262.00,685.00C269.50,683.75 285.33,680.83 300.00,679.00C314.67,677.17 333.33,675.67 350.00,674.00C366.67,672.33 383.33,670.67 400.00,669.00C416.67,667.33 433.33,665.75 450.00,664.00C466.67,662.25 488.45,659.85 500.00,658.50C511.55,657.15 516.08,656.33 519.30,655.90L519.30,655.90L521.40,682.50L523.60,714.40L526.70,735.60L535.20,767.50L545.90,797.20L565.00,835.50L582.00,869.50L592.60,886.50L601.10,900.00L628.70,940.40L664.90,1009.40L701.00,1061.50L777.50,1171.80L792.80,1193.80" fill="none" stroke="#ff0000" stroke-width="2.2" stroke-linejoin="miter" stroke-linecap="butt"/>
<path d="M89.40,1094.70C90.30,1094.45 93.38,1094.23 94.80,1093.20C96.22,1092.17 96.87,1091.10 97.90,1088.50C98.93,1085.90 99.97,1082.78 101.00,1077.60C102.03,1072.42 103.07,1063.87 104.10,1057.40C105.13,1050.93 106.17,1045.78 107.20,1038.80C108.23,1031.82 109.38,1023.27 110.30,1015.50C111.22,1007.73 111.92,1001.27 112.70,992.20C113.48,983.13 114.23,971.47 115.00,961.10C115.77,950.73 116.78,938.18 117.30,930.00C117.82,921.82 117.58,920.18 118.10,912.00C118.62,903.82 119.62,889.97 120.40,880.90C121.18,871.83 122.02,862.92 122.80,857.60C123.58,852.28 124.33,850.68 125.10,849.00C125.87,847.32 124.50,848.67 127.40,847.50C130.30,846.33 137.83,843.38 142.50,842.00C147.17,840.62 149.15,840.73 155.40,839.20C161.65,837.67 172.57,834.75 180.00,832.80C187.43,830.85 191.67,829.63 200.00,827.50C208.33,825.37 216.67,823.54 230.00,820.00C243.33,816.46 267.50,810.00 280.00,806.25C292.50,802.50 298.75,800.21 305.00,797.50C311.25,794.79 313.33,792.71 317.50,790.00C321.67,787.29 325.83,784.58 330.00,781.25C334.17,777.92 338.33,774.17 342.50,770.00C346.67,765.83 350.83,760.83 355.00,756.25C359.17,751.67 363.33,746.88 367.50,742.50C371.67,738.12 375.83,733.75 380.00,730.00C384.17,726.25 388.33,722.71 392.50,720.00C396.67,717.29 400.83,715.42 405.00,713.75C409.17,712.08 411.25,711.38 417.50,710.00C423.75,708.62 432.08,706.67 442.50,705.50C452.92,704.33 470.42,703.53 480.00,703.00C489.58,702.47 493.45,702.53 500.00,702.30C506.55,702.07 516.08,701.72 519.30,701.60L519.30,701.60L521.40,725.00L524.60,746.20L528.90,763.20L543.70,801.50L556.50,831.20L571.40,873.30L624.50,897.10L631.90,911.80L659.60,961.60L692.50,1044.50L743.50,1171.80L752.30,1193.80" fill="none" stroke="#0000ff" stroke-width="2.2" stroke-linejoin="miter" stroke-linecap="butt"/>
<rect x="86.1" y="651.9" width="722.1999999999999" height="541.9" fill="none" stroke="#000" stroke-width="3.4"/>
<line x1="85.1" y1="652.1" x2="74.1" y2="652.1" stroke="#000" stroke-width="3.2" stroke-linecap="butt"/>
<line x1="85.1" y1="760.44" x2="74.1" y2="760.44" stroke="#000" stroke-width="3.2" stroke-linecap="butt"/>
<line x1="85.1" y1="868.78" x2="74.1" y2="868.78" stroke="#000" stroke-width="3.2" stroke-linecap="butt"/>
<line x1="85.1" y1="977.12" x2="74.1" y2="977.12" stroke="#000" stroke-width="3.2" stroke-linecap="butt"/>
<line x1="85.1" y1="1085.46" x2="74.1" y2="1085.46" stroke="#000" stroke-width="3.2" stroke-linecap="butt"/>
<line x1="85.1" y1="1193.8000000000002" x2="74.1" y2="1193.8000000000002" stroke="#000" stroke-width="3.2" stroke-linecap="butt"/>
<line x1="85.1" y1="706.27" x2="79.1" y2="706.27" stroke="#000" stroke-width="3.2" stroke-linecap="butt"/>
<line x1="85.1" y1="814.61" x2="79.1" y2="814.61" stroke="#000" stroke-width="3.2" stroke-linecap="butt"/>
<line x1="85.1" y1="922.95" x2="79.1" y2="922.95" stroke="#000" stroke-width="3.2" stroke-linecap="butt"/>
<line x1="85.1" y1="1031.29" x2="79.1" y2="1031.29" stroke="#000" stroke-width="3.2" stroke-linecap="butt"/>
<line x1="85.1" y1="1139.63" x2="79.1" y2="1139.63" stroke="#000" stroke-width="3.2" stroke-linecap="butt"/>
<text transform="translate(35.61,659.20) scale(0.9500,1)" font-size="24">0.6</text>
<text transform="translate(34.92,767.54) scale(0.9500,1)" font-size="24">0.4</text>
<text transform="translate(35.72,875.88) scale(0.9500,1)" font-size="24">0.2</text>
<text transform="translate(35.72,984.22) scale(0.9500,1)" font-size="24">0.0</text>
<text transform="translate(28.20,1092.56) scale(0.9500,1)" font-size="24">-0.2</text>
<text transform="translate(27.40,1200.90) scale(0.9500,1)" font-size="24">-0.4</text>
<line x1="86.1" y1="1194.8" x2="86.1" y2="1205.8" stroke="#000" stroke-width="3.2" stroke-linecap="butt"/>
<line x1="173.6" y1="1194.8" x2="173.6" y2="1205.8" stroke="#000" stroke-width="3.2" stroke-linecap="butt"/>
<line x1="261.1" y1="1194.8" x2="261.1" y2="1205.8" stroke="#000" stroke-width="3.2" stroke-linecap="butt"/>
<line x1="348.6" y1="1194.8" x2="348.6" y2="1205.8" stroke="#000" stroke-width="3.2" stroke-linecap="butt"/>
<line x1="436.1" y1="1194.8" x2="436.1" y2="1205.8" stroke="#000" stroke-width="3.2" stroke-linecap="butt"/>
<line x1="523.6" y1="1194.8" x2="523.6" y2="1205.8" stroke="#000" stroke-width="3.2" stroke-linecap="butt"/>
<line x1="611.1" y1="1194.8" x2="611.1" y2="1205.8" stroke="#000" stroke-width="3.2" stroke-linecap="butt"/>
<line x1="698.6" y1="1194.8" x2="698.6" y2="1205.8" stroke="#000" stroke-width="3.2" stroke-linecap="butt"/>
<line x1="786.1" y1="1194.8" x2="786.1" y2="1205.8" stroke="#000" stroke-width="3.2" stroke-linecap="butt"/>
<line x1="129.85" y1="1194.8" x2="129.85" y2="1200.8" stroke="#000" stroke-width="3.2" stroke-linecap="butt"/>
<line x1="217.35" y1="1194.8" x2="217.35" y2="1200.8" stroke="#000" stroke-width="3.2" stroke-linecap="butt"/>
<line x1="304.85" y1="1194.8" x2="304.85" y2="1200.8" stroke="#000" stroke-width="3.2" stroke-linecap="butt"/>
<line x1="392.35" y1="1194.8" x2="392.35" y2="1200.8" stroke="#000" stroke-width="3.2" stroke-linecap="butt"/>
<line x1="479.85" y1="1194.8" x2="479.85" y2="1200.8" stroke="#000" stroke-width="3.2" stroke-linecap="butt"/>
<line x1="567.35" y1="1194.8" x2="567.35" y2="1200.8" stroke="#000" stroke-width="3.2" stroke-linecap="butt"/>
<line x1="654.85" y1="1194.8" x2="654.85" y2="1200.8" stroke="#000" stroke-width="3.2" stroke-linecap="butt"/>
<line x1="742.35" y1="1194.8" x2="742.35" y2="1200.8" stroke="#000" stroke-width="3.2" stroke-linecap="butt"/>
<text transform="translate(79.84,1230.50) scale(0.9400,1)" font-size="24">0</text>
<text transform="translate(161.36,1230.50) scale(0.9400,1)" font-size="24">40</text>
<text transform="translate(248.69,1230.50) scale(0.9400,1)" font-size="24">80</text>
<text transform="translate(329.59,1230.50) scale(0.9400,1)" font-size="24">120</text>
<text transform="translate(417.09,1230.50) scale(0.9400,1)" font-size="24">160</text>
<text transform="translate(504.88,1230.50) scale(0.9400,1)" font-size="24">200</text>
<text transform="translate(592.38,1230.50) scale(0.9400,1)" font-size="24">240</text>
<text transform="translate(679.88,1230.50) scale(0.9400,1)" font-size="24">280</text>
<text transform="translate(767.49,1230.50) scale(0.9400,1)" font-size="24">320</text>
<text transform="translate(384.47,1260.10) scale(0.9776,1)" font-size="33.6">Time <tspan font-weight="normal">(</tspan>s<tspan font-weight="normal">)</tspan></text>
<text transform="translate(31.10,992.01) rotate(-90) scale(1.0237,1)" font-size="33.2">Potential <tspan font-weight="normal">(</tspan>V<tspan font-weight="normal">)</tspan></text>
<text transform="translate(104.07,690.90) scale(0.9886,1)" font-size="33"><tspan font-weight="normal">(</tspan>c<tspan font-weight="normal">)</tspan></text>
<line x1="135.0" y1="1093.9" x2="197.0" y2="1093.9" stroke="#000" stroke-width="2.6" stroke-linecap="butt"/>
<text transform="translate(201.51,1103.40) scale(0.9577,1)" font-size="24">NCS:30</text>
<line x1="135.0" y1="1127.3500000000001" x2="197.0" y2="1127.3500000000001" stroke="#ff0000" stroke-width="2.6" stroke-linecap="butt"/>
<text transform="translate(201.51,1136.90) scale(0.9536,1)" font-size="24">NCS:25</text>
<line x1="135.0" y1="1160.8000000000002" x2="197.0" y2="1160.8000000000002" stroke="#0000ff" stroke-width="2.6" stroke-linecap="butt"/>
<text transform="translate(201.51,1169.90) scale(0.9577,1)" font-size="24">NCS:20</text>
</g>
<g id="panel-d">
<rect x="957.5" y="996" width="111.90" height="218.50" fill="#000"/>
<rect x="1096.3" y="761.5" width="112.10" height="453.00" fill="#000"/>
<rect x="1235.5" y="684" width="112.30" height="530.50" fill="#000"/>
<rect x="1374.9" y="829" width="112.10" height="385.50" fill="#000"/>
<rect x="1514.3" y="1069" width="111.50" height="145.50" fill="#000"/>
<rect x="944.2" y="670.7" width="695.2" height="543.8" fill="none" stroke="#000" stroke-width="3.4"/>
<line x1="943.2" y1="1214.4" x2="931.7" y2="1214.4" stroke="#000" stroke-width="3.2" stroke-linecap="butt"/>
<line x1="943.2" y1="1130.8000000000002" x2="931.7" y2="1130.8000000000002" stroke="#000" stroke-width="3.2" stroke-linecap="butt"/>
<line x1="943.2" y1="1047.2" x2="931.7" y2="1047.2" stroke="#000" stroke-width="3.2" stroke-linecap="butt"/>
<line x1="943.2" y1="963.6000000000001" x2="931.7" y2="963.6000000000001" stroke="#000" stroke-width="3.2" stroke-linecap="butt"/>
<line x1="943.2" y1="880.0000000000001" x2="931.7" y2="880.0000000000001" stroke="#000" stroke-width="3.2" stroke-linecap="butt"/>
<line x1="943.2" y1="796.4000000000001" x2="931.7" y2="796.4000000000001" stroke="#000" stroke-width="3.2" stroke-linecap="butt"/>
<line x1="943.2" y1="712.8000000000002" x2="931.7" y2="712.8000000000002" stroke="#000" stroke-width="3.2" stroke-linecap="butt"/>
<line x1="943.2" y1="1172.6000000000001" x2="936.7" y2="1172.6000000000001" stroke="#000" stroke-width="3.2" stroke-linecap="butt"/>
<line x1="943.2" y1="1089.0000000000002" x2="936.7" y2="1089.0000000000002" stroke="#000" stroke-width="3.2" stroke-linecap="butt"/>
<line x1="943.2" y1="1005.4000000000001" x2="936.7" y2="1005.4000000000001" stroke="#000" stroke-width="3.2" stroke-linecap="butt"/>
<line x1="943.2" y1="921.8000000000002" x2="936.7" y2="921.8000000000002" stroke="#000" stroke-width="3.2" stroke-linecap="butt"/>
<line x1="943.2" y1="838.2000000000002" x2="936.7" y2="838.2000000000002" stroke="#000" stroke-width="3.2" stroke-linecap="butt"/>
<line x1="943.2" y1="754.6000000000001" x2="936.7" y2="754.6000000000001" stroke="#000" stroke-width="3.2" stroke-linecap="butt"/>
<line x1="943.2" y1="671.0000000000002" x2="936.7" y2="671.0000000000002" stroke="#000" stroke-width="3.2" stroke-linecap="butt"/>
<text transform="translate(913.18,1221.50) scale(0.9000,1)" font-size="24">0</text>
<text transform="translate(889.20,1137.90) scale(0.9000,1)" font-size="24">100</text>
<text transform="translate(889.20,1054.30) scale(0.9000,1)" font-size="24">200</text>
<text transform="translate(889.20,970.70) scale(0.9000,1)" font-size="24">300</text>
<text transform="translate(889.20,887.10) scale(0.9000,1)" font-size="24">400</text>
<text transform="translate(889.20,803.50) scale(0.9000,1)" font-size="24">500</text>
<text transform="translate(889.20,719.90) scale(0.9000,1)" font-size="24">600</text>
<line x1="1013.3" y1="1215.5" x2="1013.3" y2="1227.5" stroke="#000" stroke-width="3.2" stroke-linecap="butt"/>
<line x1="1152.5" y1="1215.5" x2="1152.5" y2="1227.5" stroke="#000" stroke-width="3.2" stroke-linecap="butt"/>
<line x1="1291.6999999999998" y1="1215.5" x2="1291.6999999999998" y2="1227.5" stroke="#000" stroke-width="3.2" stroke-linecap="butt"/>
<line x1="1430.8999999999999" y1="1215.5" x2="1430.8999999999999" y2="1227.5" stroke="#000" stroke-width="3.2" stroke-linecap="butt"/>
<line x1="1570.1" y1="1215.5" x2="1570.1" y2="1227.5" stroke="#000" stroke-width="3.2" stroke-linecap="butt"/>
<line x1="943.7" y1="1215.5" x2="943.7" y2="1222.5" stroke="#000" stroke-width="3.2" stroke-linecap="butt"/>
<line x1="1082.9" y1="1215.5" x2="1082.9" y2="1222.5" stroke="#000" stroke-width="3.2" stroke-linecap="butt"/>
<line x1="1222.1" y1="1215.5" x2="1222.1" y2="1222.5" stroke="#000" stroke-width="3.2" stroke-linecap="butt"/>
<line x1="1361.3" y1="1215.5" x2="1361.3" y2="1222.5" stroke="#000" stroke-width="3.2" stroke-linecap="butt"/>
<line x1="1500.5" y1="1215.5" x2="1500.5" y2="1222.5" stroke="#000" stroke-width="3.2" stroke-linecap="butt"/>
<line x1="1639.7" y1="1215.5" x2="1639.7" y2="1222.5" stroke="#000" stroke-width="3.2" stroke-linecap="butt"/>
<text transform="translate(973.59,1251.50) scale(0.9320,1)" font-size="23.8">NCS:40</text>
<text transform="translate(1112.79,1251.50) scale(0.9320,1)" font-size="23.8">NCS:30</text>
<text transform="translate(1251.83,1251.50) scale(0.9320,1)" font-size="23.8">NCS:25</text>
<text transform="translate(1391.19,1251.50) scale(0.9320,1)" font-size="23.8">NCS:20</text>
<text transform="translate(1530.39,1251.50) scale(0.9320,1)" font-size="23.8">NCS:10</text>
<text transform="translate(1138.35,1281.40) scale(0.9551,1)" font-size="33"><tspan font-size="33">NiCo</tspan><tspan font-size="33.5" dy="13.60">2</tspan><tspan font-size="33" dy="-13.60">S</tspan><tspan font-size="33.5" dy="13.60">4</tspan><tspan font-size="33" dy="-13.60"> thin films</tspan></text>
<text transform="translate(871.60,1167.43) rotate(-90) scale(1.0507,1)" font-size="32.6"><tspan font-size="32.6">Specific capacitance <tspan font-weight="normal">(</tspan>F g</tspan><tspan font-size="32.6" dy="-16.80">-1</tspan><tspan font-size="32.6" dy="16.80"><tspan font-weight="normal">)</tspan></tspan></text>
<text transform="translate(952.68,709.60) scale(0.9718,1)" font-size="33.4"><tspan font-weight="normal">(</tspan>d<tspan font-weight="normal">)</tspan></text>
</g>
<g id="panel-e">
<path d="M97.50,1736.00C97.92,1728.33 98.92,1706.00 100.00,1690.00C101.08,1674.00 102.73,1655.83 104.00,1640.00C105.27,1624.17 106.32,1610.83 107.60,1595.00C108.88,1579.17 110.13,1561.67 111.70,1545.00C113.27,1528.33 115.37,1509.17 117.00,1495.00C118.63,1480.83 119.33,1470.00 121.50,1460.00C123.67,1450.00 126.50,1442.08 130.00,1435.00C133.50,1427.92 138.33,1422.50 142.50,1417.50C146.67,1412.50 150.42,1409.58 155.00,1405.00C159.58,1400.42 164.58,1394.58 170.00,1390.00C175.42,1385.42 181.67,1380.83 187.50,1377.50C193.33,1374.17 198.75,1372.29 205.00,1370.00C211.25,1367.71 220.00,1365.83 225.00,1363.75C230.00,1361.67 230.00,1359.38 235.00,1357.50C240.00,1355.62 247.50,1354.38 255.00,1352.50C262.50,1350.62 271.67,1348.00 280.00,1346.25C288.33,1344.50 296.67,1343.25 305.00,1342.00C313.33,1340.75 321.67,1339.83 330.00,1338.75C338.33,1337.67 346.67,1336.54 355.00,1335.50C363.33,1334.46 371.67,1333.42 380.00,1332.50C388.33,1331.58 396.67,1330.83 405.00,1330.00C413.33,1329.17 419.58,1328.33 430.00,1327.50C440.42,1326.67 456.67,1325.92 467.50,1325.00C478.33,1324.08 484.79,1323.17 495.00,1322.00C505.21,1320.83 523.12,1318.67 528.75,1318.00L528.75,1318.00L530.00,1345.00L533.75,1388.75L542.50,1420.00L552.50,1455.00L570.00,1490.00L590.00,1526.25L612.50,1560.00L637.50,1595.00L655.00,1627.50L673.75,1662.50L705.00,1707.50L755.00,1780.00L800.00,1840.00" fill="none" stroke="#000" stroke-width="3.3" stroke-linejoin="miter" stroke-linecap="round"/>
<path d="M97.50,1736.00C97.85,1728.33 98.69,1706.00 99.62,1690.00C100.55,1674.00 101.98,1655.83 103.09,1640.00C104.20,1624.17 105.15,1610.83 106.30,1595.00C107.45,1579.17 108.56,1561.67 109.97,1545.00C111.38,1528.33 113.26,1509.17 114.74,1495.00C116.22,1480.83 116.71,1470.00 118.84,1460.00C120.97,1450.00 124.39,1442.08 127.50,1435.00C130.61,1427.92 133.75,1423.33 137.50,1417.50C141.25,1411.67 145.42,1405.62 150.00,1400.00C154.58,1394.38 159.58,1388.33 165.00,1383.75C170.42,1379.17 176.67,1375.83 182.50,1372.50C188.33,1369.17 195.42,1366.04 200.00,1363.75C204.58,1361.46 205.00,1361.04 210.00,1358.75C215.00,1356.46 222.50,1352.50 230.00,1350.00C237.50,1347.50 246.67,1345.50 255.00,1343.75C263.33,1342.00 271.67,1340.75 280.00,1339.50C288.33,1338.25 296.67,1337.29 305.00,1336.25C313.33,1335.21 321.67,1334.08 330.00,1333.25C338.33,1332.42 346.67,1332.00 355.00,1331.25C363.33,1330.50 371.67,1329.58 380.00,1328.75C388.33,1327.92 396.67,1327.29 405.00,1326.25C413.33,1325.21 420.58,1323.88 430.00,1322.50C439.42,1321.12 456.25,1318.75 461.50,1318.00L461.50,1318.00L463.25,1345.00L466.25,1388.75L473.75,1420.00L482.50,1455.00L497.50,1490.00L513.75,1526.25L532.50,1560.00L552.50,1592.50L570.00,1630.00L583.75,1661.25L605.00,1697.50L642.50,1765.00L692.00,1840.00" fill="none" stroke="#ff0000" stroke-width="3.3" stroke-linejoin="miter" stroke-linecap="round"/>
<path d="M97.50,1736.00C97.79,1728.33 98.45,1706.00 99.23,1690.00C100.01,1674.00 101.22,1655.83 102.18,1640.00C103.14,1624.17 104.00,1610.83 105.01,1595.00C106.02,1579.17 106.99,1561.67 108.24,1545.00C109.49,1528.33 111.16,1509.17 112.49,1495.00C113.81,1480.83 114.10,1470.00 116.19,1460.00C118.28,1450.00 121.86,1442.50 125.00,1435.00C128.13,1427.50 131.25,1421.25 135.00,1415.00C138.75,1408.75 142.92,1403.33 147.50,1397.50C152.08,1391.67 157.08,1384.58 162.50,1380.00C167.92,1375.42 174.17,1373.12 180.00,1370.00C185.83,1366.88 191.67,1364.17 197.50,1361.25C203.33,1358.33 209.58,1355.00 215.00,1352.50C220.42,1350.00 223.33,1348.12 230.00,1346.25C236.67,1344.38 246.67,1342.71 255.00,1341.25C263.33,1339.79 271.67,1338.75 280.00,1337.50C288.33,1336.25 296.67,1334.79 305.00,1333.75C313.33,1332.71 321.67,1332.08 330.00,1331.25C338.33,1330.42 346.67,1329.58 355.00,1328.75C363.33,1327.92 371.67,1327.29 380.00,1326.25C388.33,1325.21 396.88,1323.88 405.00,1322.50C413.12,1321.12 424.79,1318.75 428.75,1318.00L428.75,1318.00L430.00,1345.00L432.50,1388.75L440.00,1425.00L447.50,1456.25L460.00,1490.00L475.00,1526.25L492.50,1557.50L510.00,1590.00L525.00,1622.50L540.00,1661.25L565.00,1705.00L605.00,1780.00L637.50,1840.00" fill="none" stroke="#0000ff" stroke-width="3.3" stroke-linejoin="miter" stroke-linecap="round"/>
<path d="M97.50,1736.00C97.67,1728.33 98.02,1706.00 98.51,1690.00C99.01,1674.00 99.79,1655.83 100.47,1640.00C101.15,1624.17 101.83,1610.83 102.58,1595.00C103.33,1579.17 104.05,1561.67 105.00,1545.00C105.95,1528.33 107.23,1509.17 108.26,1495.00C109.30,1480.83 108.84,1472.50 111.21,1460.00C113.58,1447.50 118.95,1430.00 122.50,1420.00C126.05,1410.00 128.75,1406.25 132.50,1400.00C136.25,1393.75 140.42,1387.50 145.00,1382.50C149.58,1377.50 155.00,1373.75 160.00,1370.00C165.00,1366.25 170.00,1363.12 175.00,1360.00C180.00,1356.88 185.83,1353.54 190.00,1351.25C194.17,1348.96 195.00,1347.92 200.00,1346.25C205.00,1344.58 212.92,1342.92 220.00,1341.25C227.08,1339.58 234.58,1337.71 242.50,1336.25C250.42,1334.79 259.17,1333.75 267.50,1332.50C275.83,1331.25 284.17,1330.00 292.50,1328.75C300.83,1327.50 309.17,1326.46 317.50,1325.00C325.83,1323.54 336.58,1321.17 342.50,1320.00C348.42,1318.83 351.25,1318.33 353.00,1318.00L353.00,1318.00L353.75,1345.00L355.00,1387.50L360.00,1420.00L367.50,1455.00L380.00,1495.00L392.50,1535.00L405.00,1565.00L410.80,1580.00L423.90,1612.80L438.70,1662.00L453.40,1694.80L474.80,1743.90L495.20,1793.10L514.20,1840.00" fill="none" stroke="#008080" stroke-width="3.3" stroke-linejoin="miter" stroke-linecap="round"/>
<path d="M97.50,1736.00C97.58,1728.33 97.68,1706.00 97.96,1690.00C98.24,1674.00 98.70,1655.83 99.16,1640.00C99.62,1624.17 100.16,1610.83 100.72,1595.00C101.28,1579.17 101.80,1561.67 102.52,1545.00C103.24,1528.33 104.21,1509.17 105.02,1495.00C105.83,1480.83 105.81,1472.17 107.39,1460.00C108.97,1447.83 112.31,1431.33 114.50,1422.00C116.69,1412.67 118.25,1409.50 120.50,1404.00C122.75,1398.50 125.42,1393.17 128.00,1389.00C130.58,1384.83 133.00,1382.00 136.00,1379.00C139.00,1376.00 142.67,1374.25 146.00,1371.00C149.33,1367.75 152.67,1362.92 156.00,1359.50C159.33,1356.08 162.33,1353.00 166.00,1350.50C169.67,1348.00 173.17,1346.67 178.00,1344.50C182.83,1342.33 189.17,1339.50 195.00,1337.50C200.83,1335.50 206.67,1334.00 213.00,1332.50C219.33,1331.00 226.33,1329.75 233.00,1328.50C239.67,1327.25 246.00,1326.17 253.00,1325.00C260.00,1323.83 267.92,1322.67 275.00,1321.50C282.08,1320.33 292.08,1318.58 295.50,1318.00L295.50,1318.00L296.25,1345.00L297.50,1387.50L301.25,1420.00L307.50,1457.50L317.50,1495.00L330.00,1537.50L339.50,1580.00L351.00,1612.80L363.30,1662.00L374.80,1694.80L390.30,1743.90L405.90,1793.10L420.70,1840.00" fill="none" stroke="#ff00ff" stroke-width="3.3" stroke-linejoin="miter" stroke-linecap="round"/>
<path d="M97.50,1736.00C97.55,1728.33 97.57,1706.00 97.77,1690.00C97.97,1674.00 98.32,1655.83 98.70,1640.00C99.08,1624.17 99.58,1610.83 100.07,1595.00C100.56,1579.17 101.02,1561.67 101.66,1545.00C102.30,1528.33 103.16,1509.17 103.89,1495.00C104.62,1480.83 104.54,1472.50 106.06,1460.00C107.58,1447.50 110.84,1429.67 113.00,1420.00C115.16,1410.33 116.75,1407.50 119.00,1402.00C121.25,1396.50 124.00,1391.17 126.50,1387.00C129.00,1382.83 131.08,1380.00 134.00,1377.00C136.92,1374.00 140.67,1372.33 144.00,1369.00C147.33,1365.67 150.67,1360.50 154.00,1357.00C157.33,1353.50 160.33,1350.42 164.00,1348.00C167.67,1345.58 171.08,1344.50 176.00,1342.50C180.92,1340.50 187.67,1337.92 193.50,1336.00C199.33,1334.08 204.75,1332.50 211.00,1331.00C217.25,1329.50 224.33,1328.25 231.00,1327.00C237.67,1325.75 244.50,1324.58 251.00,1323.50C257.50,1322.42 264.12,1321.42 270.00,1320.50C275.88,1319.58 283.54,1318.42 286.25,1318.00L286.25,1318.00L287.50,1345.00L288.25,1387.50L291.25,1412.50L297.50,1457.50L307.50,1500.00L317.50,1535.00L329.70,1580.00L338.70,1612.80L350.20,1662.00L361.60,1694.80L376.40,1743.90L392.00,1793.10L406.40,1840.00" fill="none" stroke="#808000" stroke-width="3.3" stroke-linejoin="miter" stroke-linecap="round"/>
<path d="M97.50,1736.00C97.52,1728.33 97.47,1706.00 97.60,1690.00C97.73,1674.00 97.98,1655.83 98.30,1640.00C98.62,1624.17 99.07,1610.83 99.50,1595.00C99.93,1579.17 100.33,1561.67 100.90,1545.00C101.47,1528.33 102.23,1509.17 102.90,1495.00C103.57,1480.83 103.51,1472.50 104.90,1460.00C106.29,1447.50 109.15,1430.00 111.25,1420.00C113.35,1410.00 115.21,1405.83 117.50,1400.00C119.79,1394.17 122.50,1389.17 125.00,1385.00C127.50,1380.83 129.58,1377.92 132.50,1375.00C135.42,1372.08 139.17,1370.83 142.50,1367.50C145.83,1364.17 149.17,1358.54 152.50,1355.00C155.83,1351.46 158.75,1348.54 162.50,1346.25C166.25,1343.96 170.00,1343.12 175.00,1341.25C180.00,1339.38 186.67,1336.88 192.50,1335.00C198.33,1333.12 203.75,1331.46 210.00,1330.00C216.25,1328.54 223.33,1327.71 230.00,1326.25C236.67,1324.79 244.38,1322.71 250.00,1321.25C255.62,1319.79 261.46,1318.12 263.75,1317.50L263.75,1317.50L264.50,1345.00L265.00,1387.50L267.50,1412.50L273.75,1455.00L282.50,1495.00L292.50,1540.00L301.00,1580.00L309.20,1612.80L319.00,1662.00L328.90,1694.80L342.00,1743.90L355.10,1793.10L368.30,1840.00" fill="none" stroke="#000080" stroke-width="3.3" stroke-linejoin="miter" stroke-linecap="round"/>
<rect x="97.5" y="1303.6" width="728.1" height="547.1000000000001" fill="none" stroke="#000" stroke-width="3.4"/>
<line x1="96.5" y1="1314.1" x2="85.0" y2="1314.1" stroke="#000" stroke-width="3.2" stroke-linecap="butt"/>
<line x1="96.5" y1="1419.34" x2="85.0" y2="1419.34" stroke="#000" stroke-width="3.2" stroke-linecap="butt"/>
<line x1="96.5" y1="1524.58" x2="85.0" y2="1524.58" stroke="#000" stroke-width="3.2" stroke-linecap="butt"/>
<line x1="96.5" y1="1629.82" x2="85.0" y2="1629.82" stroke="#000" stroke-width="3.2" stroke-linecap="butt"/>
<line x1="96.5" y1="1735.06" x2="85.0" y2="1735.06" stroke="#000" stroke-width="3.2" stroke-linecap="butt"/>
<line x1="96.5" y1="1840.2999999999997" x2="85.0" y2="1840.2999999999997" stroke="#000" stroke-width="3.2" stroke-linecap="butt"/>
<line x1="96.5" y1="1366.7199999999998" x2="90.5" y2="1366.7199999999998" stroke="#000" stroke-width="3.2" stroke-linecap="butt"/>
<line x1="96.5" y1="1471.9599999999998" x2="90.5" y2="1471.9599999999998" stroke="#000" stroke-width="3.2" stroke-linecap="butt"/>
<line x1="96.5" y1="1577.1999999999998" x2="90.5" y2="1577.1999999999998" stroke="#000" stroke-width="3.2" stroke-linecap="butt"/>
<line x1="96.5" y1="1682.4399999999998" x2="90.5" y2="1682.4399999999998" stroke="#000" stroke-width="3.2" stroke-linecap="butt"/>
<line x1="96.5" y1="1787.6799999999998" x2="90.5" y2="1787.6799999999998" stroke="#000" stroke-width="3.2" stroke-linecap="butt"/>
<text transform="translate(46.16,1321.20) scale(0.9700,1)" font-size="24">0.6</text>
<text transform="translate(45.46,1426.44) scale(0.9700,1)" font-size="24">0.4</text>
<text transform="translate(46.27,1531.68) scale(0.9700,1)" font-size="24">0.2</text>
<text transform="translate(46.27,1636.92) scale(0.9700,1)" font-size="24">0.0</text>
<text transform="translate(38.59,1742.16) scale(0.9700,1)" font-size="24">-0.2</text>
<text transform="translate(37.77,1847.40) scale(0.9700,1)" font-size="24">-0.4</text>
<line x1="97.6" y1="1851.7" x2="97.6" y2="1863.2" stroke="#000" stroke-width="3.2" stroke-linecap="butt"/>
<line x1="223.39999999999998" y1="1851.7" x2="223.39999999999998" y2="1863.2" stroke="#000" stroke-width="3.2" stroke-linecap="butt"/>
<line x1="349.2" y1="1851.7" x2="349.2" y2="1863.2" stroke="#000" stroke-width="3.2" stroke-linecap="butt"/>
<line x1="475.0" y1="1851.7" x2="475.0" y2="1863.2" stroke="#000" stroke-width="3.2" stroke-linecap="butt"/>
<line x1="600.8" y1="1851.7" x2="600.8" y2="1863.2" stroke="#000" stroke-width="3.2" stroke-linecap="butt"/>
<line x1="726.6" y1="1851.7" x2="726.6" y2="1863.2" stroke="#000" stroke-width="3.2" stroke-linecap="butt"/>
<line x1="160.5" y1="1851.7" x2="160.5" y2="1858.2" stroke="#000" stroke-width="3.2" stroke-linecap="butt"/>
<line x1="286.3" y1="1851.7" x2="286.3" y2="1858.2" stroke="#000" stroke-width="3.2" stroke-linecap="butt"/>
<line x1="412.1" y1="1851.7" x2="412.1" y2="1858.2" stroke="#000" stroke-width="3.2" stroke-linecap="butt"/>
<line x1="537.9" y1="1851.7" x2="537.9" y2="1858.2" stroke="#000" stroke-width="3.2" stroke-linecap="butt"/>
<line x1="663.7" y1="1851.7" x2="663.7" y2="1858.2" stroke="#000" stroke-width="3.2" stroke-linecap="butt"/>
<line x1="789.5" y1="1851.7" x2="789.5" y2="1858.2" stroke="#000" stroke-width="3.2" stroke-linecap="butt"/>
<text transform="translate(91.24,1887.80) scale(0.9550,1)" font-size="24">0</text>
<text transform="translate(204.09,1887.80) scale(0.9550,1)" font-size="24">150</text>
<text transform="translate(330.29,1887.80) scale(0.9550,1)" font-size="24">300</text>
<text transform="translate(456.21,1887.80) scale(0.9550,1)" font-size="24">450</text>
<text transform="translate(581.78,1887.80) scale(0.9550,1)" font-size="24">600</text>
<text transform="translate(707.52,1887.80) scale(0.9550,1)" font-size="24">750</text>
<text transform="translate(391.87,1921.50) scale(0.9871,1)" font-size="33.6">Time <tspan font-weight="normal">(</tspan>s<tspan font-weight="normal">)</tspan></text>
<text transform="translate(41.60,1664.64) rotate(-90) scale(1.0316,1)" font-size="33.4">Potentical <tspan font-weight="normal">(</tspan>V<tspan font-weight="normal">)</tspan></text>
<text transform="translate(104.22,1335.90) scale(1.0056,1)" font-size="33.5"><tspan font-weight="normal">(</tspan>e<tspan font-weight="normal">)</tspan></text>
<text transform="translate(735.50,1329.20) scale(0.9620,1)" font-size="24">NCS:25</text>
<line x1="108.8" y1="1548.7" x2="170.2" y2="1548.7" stroke="#000" stroke-width="3.4" stroke-linecap="butt"/>
<text transform="translate(175.50,1558.00) scale(0.9400,1)" font-size="24.8"><tspan font-size="24.8">1 mA cm</tspan><tspan font-size="24.5" dy="-15.60">-1</tspan></text>
<line x1="108.8" y1="1595.75" x2="170.2" y2="1595.75" stroke="#ff0000" stroke-width="3.4" stroke-linecap="butt"/>
<text transform="translate(176.32,1605.05) scale(0.9400,1)" font-size="24.8"><tspan font-size="24.8">3 mA cm</tspan><tspan font-size="24.5" dy="-15.60">-1</tspan></text>
<line x1="108.8" y1="1642.8" x2="170.2" y2="1642.8" stroke="#0000ff" stroke-width="3.4" stroke-linecap="butt"/>
<text transform="translate(176.55,1652.10) scale(0.9400,1)" font-size="24.8"><tspan font-size="24.8">4 mA cm</tspan><tspan font-size="24.5" dy="-15.60">-1</tspan></text>
<line x1="108.8" y1="1689.85" x2="170.2" y2="1689.85" stroke="#008080" stroke-width="3.4" stroke-linecap="butt"/>
<text transform="translate(175.97,1699.15) scale(0.9400,1)" font-size="24.8"><tspan font-size="24.8">7 mA cm</tspan><tspan font-size="24.5" dy="-15.60">-1</tspan></text>
<line x1="108.8" y1="1736.9" x2="170.2" y2="1736.9" stroke="#ff00ff" stroke-width="3.4" stroke-linecap="butt"/>
<text transform="translate(176.20,1746.20) scale(0.9400,1)" font-size="24.8"><tspan font-size="24.8">8 mA cm</tspan><tspan font-size="24.5" dy="-15.60">-1</tspan></text>
<line x1="108.8" y1="1783.95" x2="170.2" y2="1783.95" stroke="#808000" stroke-width="3.4" stroke-linecap="butt"/>
<text transform="translate(176.08,1793.25) scale(0.9400,1)" font-size="24.8"><tspan font-size="24.8">9 mA cm</tspan><tspan font-size="24.5" dy="-15.60">-1</tspan></text>
<line x1="108.8" y1="1831.0" x2="170.2" y2="1831.0" stroke="#000080" stroke-width="3.4" stroke-linecap="butt"/>
<text transform="translate(175.50,1840.30) scale(0.9400,1)" font-size="24.8"><tspan font-size="24.8">10 mA cm</tspan><tspan font-size="24.5" dy="-15.60">-1</tspan></text>
</g>
<g id="panel-f">
<path d="M991.30,1543.35L1073.30,1578.95M1089.29,1583.68L1173.91,1597.72M1190.38,1601.00L1352.92,1638.70M1369.50,1640.48L1435.50,1639.52M1452.24,1640.40L1487.16,1644.60M1503.56,1647.98L1583.14,1671.52" fill="none" stroke="#000" stroke-width="2.5" stroke-linejoin="round" stroke-linecap="butt"/>
<circle cx="983.6" cy="1540" r="6.3" fill="url(#gk)"/>
<circle cx="1081" cy="1582.3" r="6.3" fill="url(#gk)"/>
<circle cx="1182.2" cy="1599.1" r="6.3" fill="url(#gk)"/>
<circle cx="1361.1" cy="1640.6" r="6.3" fill="url(#gk)"/>
<circle cx="1443.9" cy="1639.4" r="6.3" fill="url(#gk)"/>
<circle cx="1495.5" cy="1645.6" r="6.3" fill="url(#gk)"/>
<circle cx="1591.2" cy="1673.9" r="6.3" fill="url(#gk)"/>
<rect x="954.1" y="1313.8" width="685.4999999999999" height="529.7" fill="none" stroke="#000" stroke-width="3.4"/>
<line x1="953.1" y1="1313.7" x2="941.6" y2="1313.7" stroke="#000" stroke-width="3.2" stroke-linecap="butt"/>
<line x1="953.1" y1="1379.92" x2="941.6" y2="1379.92" stroke="#000" stroke-width="3.2" stroke-linecap="butt"/>
<line x1="953.1" y1="1446.14" x2="941.6" y2="1446.14" stroke="#000" stroke-width="3.2" stroke-linecap="butt"/>
<line x1="953.1" y1="1512.3600000000001" x2="941.6" y2="1512.3600000000001" stroke="#000" stroke-width="3.2" stroke-linecap="butt"/>
<line x1="953.1" y1="1578.58" x2="941.6" y2="1578.58" stroke="#000" stroke-width="3.2" stroke-linecap="butt"/>
<line x1="953.1" y1="1644.8000000000002" x2="941.6" y2="1644.8000000000002" stroke="#000" stroke-width="3.2" stroke-linecap="butt"/>
<line x1="953.1" y1="1711.02" x2="941.6" y2="1711.02" stroke="#000" stroke-width="3.2" stroke-linecap="butt"/>
<line x1="953.1" y1="1777.24" x2="941.6" y2="1777.24" stroke="#000" stroke-width="3.2" stroke-linecap="butt"/>
<line x1="953.1" y1="1843.46" x2="941.6" y2="1843.46" stroke="#000" stroke-width="3.2" stroke-linecap="butt"/>
<line x1="953.1" y1="1346.81" x2="947.1" y2="1346.81" stroke="#000" stroke-width="3.2" stroke-linecap="butt"/>
<line x1="953.1" y1="1413.03" x2="947.1" y2="1413.03" stroke="#000" stroke-width="3.2" stroke-linecap="butt"/>
<line x1="953.1" y1="1479.25" x2="947.1" y2="1479.25" stroke="#000" stroke-width="3.2" stroke-linecap="butt"/>
<line x1="953.1" y1="1545.47" x2="947.1" y2="1545.47" stroke="#000" stroke-width="3.2" stroke-linecap="butt"/>
<line x1="953.1" y1="1611.69" x2="947.1" y2="1611.69" stroke="#000" stroke-width="3.2" stroke-linecap="butt"/>
<line x1="953.1" y1="1677.9099999999999" x2="947.1" y2="1677.9099999999999" stroke="#000" stroke-width="3.2" stroke-linecap="butt"/>
<line x1="953.1" y1="1744.1299999999999" x2="947.1" y2="1744.1299999999999" stroke="#000" stroke-width="3.2" stroke-linecap="butt"/>
<line x1="953.1" y1="1810.35" x2="947.1" y2="1810.35" stroke="#000" stroke-width="3.2" stroke-linecap="butt"/>
<text transform="translate(886.57,1320.80) scale(0.9330,1)" font-size="24">2000</text>
<text transform="translate(886.57,1387.02) scale(0.9330,1)" font-size="24">1750</text>
<text transform="translate(886.57,1453.24) scale(0.9330,1)" font-size="24">1500</text>
<text transform="translate(886.57,1519.46) scale(0.9330,1)" font-size="24">1250</text>
<text transform="translate(886.57,1585.68) scale(0.9330,1)" font-size="24">1000</text>
<text transform="translate(899.11,1651.90) scale(0.9330,1)" font-size="24">750</text>
<text transform="translate(899.11,1718.12) scale(0.9330,1)" font-size="24">500</text>
<text transform="translate(899.11,1784.34) scale(0.9330,1)" font-size="24">250</text>
<text transform="translate(923.97,1850.56) scale(0.9330,1)" font-size="24">0</text>
<line x1="1042.8" y1="1844.5" x2="1042.8" y2="1855.5" stroke="#000" stroke-width="3.2" stroke-linecap="butt"/>
<line x1="1179.8999999999999" y1="1844.5" x2="1179.8999999999999" y2="1855.5" stroke="#000" stroke-width="3.2" stroke-linecap="butt"/>
<line x1="1317.0" y1="1844.5" x2="1317.0" y2="1855.5" stroke="#000" stroke-width="3.2" stroke-linecap="butt"/>
<line x1="1454.1" y1="1844.5" x2="1454.1" y2="1855.5" stroke="#000" stroke-width="3.2" stroke-linecap="butt"/>
<line x1="1591.1999999999998" y1="1844.5" x2="1591.1999999999998" y2="1855.5" stroke="#000" stroke-width="3.2" stroke-linecap="butt"/>
<line x1="974.25" y1="1844.5" x2="974.25" y2="1850.5" stroke="#000" stroke-width="3.2" stroke-linecap="butt"/>
<line x1="1111.35" y1="1844.5" x2="1111.35" y2="1850.5" stroke="#000" stroke-width="3.2" stroke-linecap="butt"/>
<line x1="1248.45" y1="1844.5" x2="1248.45" y2="1850.5" stroke="#000" stroke-width="3.2" stroke-linecap="butt"/>
<line x1="1385.55" y1="1844.5" x2="1385.55" y2="1850.5" stroke="#000" stroke-width="3.2" stroke-linecap="butt"/>
<line x1="1522.65" y1="1844.5" x2="1522.65" y2="1850.5" stroke="#000" stroke-width="3.2" stroke-linecap="butt"/>
<text transform="translate(1036.73,1878.50) scale(0.9200,1)" font-size="24">2</text>
<text transform="translate(1173.66,1878.50) scale(0.9200,1)" font-size="24">4</text>
<text transform="translate(1310.87,1878.50) scale(0.9200,1)" font-size="24">6</text>
<text transform="translate(1447.97,1878.50) scale(0.9200,1)" font-size="24">8</text>
<text transform="translate(1578.72,1878.50) scale(0.9200,1)" font-size="24">10</text>
<text transform="translate(1059.95,1921.20) scale(0.9680,1)" font-size="32.2"><tspan font-size="32.2">Current Density <tspan font-weight="normal">(</tspan>mA cm</tspan><tspan font-size="33" dy="-17.80">-1</tspan><tspan font-size="32.2" dy="17.80"><tspan font-weight="normal">)</tspan></tspan></text>
<text transform="translate(872.00,1776.40) rotate(-90) scale(1.0271,1)" font-size="32.6"><tspan font-size="32.6">Specific capacitance <tspan font-weight="normal">(</tspan>F g</tspan><tspan font-size="32.6" dy="-15.50">-1</tspan><tspan font-size="32.6" dy="15.50"><tspan font-weight="normal">)</tspan></tspan></text>
<text transform="translate(963.82,1357.00) scale(0.9896,1)" font-size="32"><tspan font-weight="normal">(</tspan>f<tspan font-weight="normal">)</tspan></text>
<text transform="translate(1550.08,1341.60) scale(0.9103,1)" font-size="24">NCS:25</text>
</g>
</svg>
</body>
</html>
